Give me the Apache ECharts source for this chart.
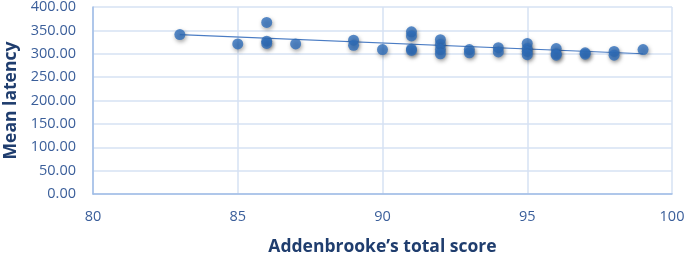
<!DOCTYPE html>
<html>
<head>
<meta charset="utf-8">
<script src="https://cdn.jsdelivr.net/npm/echarts@6/dist/echarts.min.js"></script>
<style>
html,body{margin:0;padding:0;background:#fff;}
#c{width:685px;height:256px;}
</style>
</head>
<body>
<div id="c"></div>
<script>
const scores = [83, 85, 86, 86, 86, 87, 89, 89, 90, 91, 91, 91, 91, 92, 92, 92, 92, 93, 93, 94, 94, 95, 95, 95, 95, 96, 96, 96, 97, 97, 98, 98, 99];
const latencies = [341, 321, 367, 327, 322, 321, 329, 318, 309, 347, 338, 310, 307, 330, 320, 309, 300, 309, 302, 313, 304, 322, 311, 305, 298, 311, 300, 297, 302, 299, 305, 297, 309];
const trendX = [83, 99];
const trendY = [341, 300];
const yTicks = ['0.00','50.00','100.00','150.00','200.00','250.00','300.00','350.00','400.00'];

const chart = echarts.init(document.getElementById('c'));
const pts = scores.map((s, i) => [s, latencies[i]]);
const trend = trendX.map((x, i) => [x, trendY[i]]);
const labelColor = '#3A5E9A';
const titleColor = '#1F3D6E';
const gridColor = '#D6E2F3';
const axisColor = '#9FBCE6';

chart.setOption({
  animation: false,
  grid: { left: 93, right: 13, top: 7, bottom: 62, show: false, containLabel: false, outerBoundsMode: 'none' },
  xAxis: {
    type: 'value', min: 80, max: 100, interval: 5,
    name: 'Addenbrooke\u2019s total score', nameLocation: 'middle', nameGap: 44,
    nameTextStyle: { color: titleColor, fontSize: 17.5, fontWeight: 'bold', fontFamily: 'Open Sans' },
    axisLine: { show: true, lineStyle: { color: axisColor, width: 1.5 } },
    axisTick: { show: false },
    axisLabel: { color: labelColor, fontSize: 14.5, fontFamily: 'Open Sans', margin: 15 },
    splitLine: { show: true, lineStyle: { color: gridColor, width: 1.5 } }
  },
  yAxis: {
    type: 'value', min: 0, max: 400, interval: 50,
    name: 'Mean latency', nameLocation: 'middle', nameGap: 72, nameRotate: 90,
    nameTextStyle: { color: titleColor, fontSize: 17.5, fontWeight: 'bold', fontFamily: 'Open Sans' },
    axisLine: { show: true, lineStyle: { color: axisColor, width: 1.5 } },
    axisTick: { show: false },
    axisLabel: { color: labelColor, fontSize: 14.5, fontFamily: 'Open Sans', margin: 17,
      formatter: v => yTicks[Math.round(v / 50)] },
    splitLine: { show: true, lineStyle: { color: gridColor, width: 1.5 } }
  },
  series: [
    {
      type: 'line', data: trend, symbol: 'none', silent: true, z: 1,
      lineStyle: { color: '#4A7CC4', width: 1.2 }
    },
    {
      type: 'scatter', data: pts, symbolSize: 11, z: 2,
      itemStyle: { color: '#2F6EBA', shadowBlur: 4, shadowColor: 'rgba(0,0,0,0.45)', shadowOffsetX: 1, shadowOffsetY: 2 }
    }
  ]
});
</script>
</body>
</html>
